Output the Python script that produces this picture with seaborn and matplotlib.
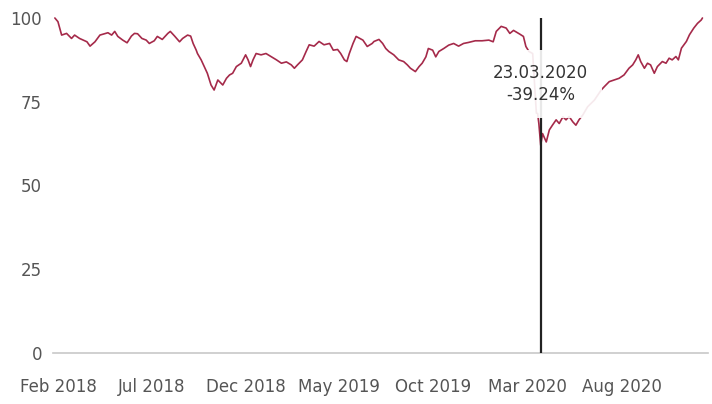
import pandas as pd
import matplotlib
matplotlib.use('Agg')
import matplotlib.pyplot as plt
import matplotlib.dates as mdates
import seaborn as sns

# index level (start = 100)
dates = [
    '2018-01-26', '2018-01-31', '2018-02-06', '2018-02-14', '2018-02-22', '2018-02-27',
    '2018-03-07', '2018-03-13', '2018-03-19', '2018-03-24', '2018-04-01', '2018-04-09',
    '2018-04-22', '2018-04-28', '2018-05-03', '2018-05-08', '2018-05-16', '2018-05-23',
    '2018-05-30', '2018-06-04', '2018-06-09', '2018-06-16', '2018-06-23', '2018-06-28',
    '2018-07-06', '2018-07-11', '2018-07-19', '2018-07-28', '2018-08-01', '2018-08-08',
    '2018-08-16', '2018-08-21', '2018-08-29', '2018-09-03', '2018-09-07', '2018-09-12',
    '2018-09-14', '2018-09-20', '2018-09-25', '2018-09-30', '2018-10-06', '2018-10-11',
    '2018-10-17', '2018-10-25', '2018-10-31', '2018-11-05', '2018-11-10', '2018-11-16',
    '2018-11-24', '2018-12-01', '2018-12-05', '2018-12-09', '2018-12-13', '2018-12-18',
    '2018-12-26', '2019-01-03', '2019-01-12', '2019-01-20', '2019-01-28', '2019-02-05',
    '2019-02-13', '2019-02-18', '2019-02-23', '2019-03-03', '2019-03-09', '2019-03-14',
    '2019-03-22', '2019-03-30', '2019-04-07', '2019-04-16', '2019-04-22', '2019-04-29',
    '2019-05-04', '2019-05-10', '2019-05-14', '2019-05-18', '2019-05-24', '2019-05-29',
    '2019-06-04', '2019-06-09', '2019-06-16', '2019-06-24', '2019-06-27', '2019-07-05',
    '2019-07-11', '2019-07-16', '2019-07-21', '2019-07-29', '2019-08-06', '2019-08-14',
    '2019-08-20', '2019-08-25', '2019-09-02', '2019-09-08', '2019-09-13', '2019-09-19',
    '2019-09-23', '2019-09-30', '2019-10-05', '2019-10-10', '2019-10-18', '2019-10-26',
    '2019-11-03', '2019-11-11', '2019-11-19', '2019-11-27', '2019-12-08', '2019-12-19',
    '2019-12-30', '2020-01-06', '2020-01-11', '2020-01-19', '2020-01-27', '2020-02-02',
    '2020-02-08', '2020-02-18', '2020-02-24', '2020-02-28', '2020-03-04', '2020-03-10',
    '2020-03-16', '2020-03-18', '2020-03-20', '2020-03-23', '2020-03-26', '2020-04-01',
    '2020-04-06', '2020-04-11', '2020-04-17', '2020-04-22', '2020-04-28', '2020-05-03',
    '2020-05-08', '2020-05-14', '2020-05-19', '2020-05-24', '2020-05-30', '2020-06-07',
    '2020-06-18', '2020-06-29', '2020-07-04', '2020-07-12', '2020-07-20', '2020-07-28',
    '2020-08-05', '2020-08-13', '2020-08-19', '2020-08-24', '2020-08-28', '2020-09-01',
    '2020-09-07', '2020-09-12', '2020-09-17', '2020-09-23', '2020-09-28', '2020-10-06',
    '2020-10-12', '2020-10-17', '2020-10-22', '2020-10-28', '2020-11-01', '2020-11-06',
    '2020-11-14', '2020-11-19', '2020-11-26', '2020-12-02', '2020-12-08', '2020-12-10',
]
values = [
    100.0, 98.9, 94.9, 95.4, 93.9, 94.9,
    93.9, 93.4, 92.9, 91.6, 92.9, 94.9,
    95.6, 94.9, 96.0, 94.5, 93.4, 92.6,
    94.6, 95.4, 95.3, 93.9, 93.4, 92.4,
    93.2, 94.5, 93.6, 95.4, 96.0, 94.6,
    92.9, 93.9, 94.9, 94.6, 92.4, 90.4,
    89.4, 87.5, 85.5, 83.5, 80.0, 78.5,
    81.5, 80.0, 82.0, 83.0, 83.5, 85.5,
    86.5, 89.0, 87.5, 85.5, 87.5, 89.4,
    89.0, 89.4, 88.4, 87.5, 86.5, 86.9,
    86.0, 85.0, 86.0, 87.5, 90.0, 92.0,
    91.6, 93.0, 92.0, 92.4, 90.4, 90.6,
    89.4, 87.5, 87.0, 89.4, 92.4, 94.5,
    93.9, 93.4, 91.5, 92.4, 93.0, 93.6,
    92.4, 90.9, 90.0, 89.0, 87.5, 87.0,
    86.0, 85.0, 84.0, 85.5, 86.5, 88.4,
    90.9, 90.4, 88.4, 90.0, 90.9, 91.9,
    92.4, 91.6, 92.4, 92.7, 93.2, 93.2,
    93.4, 92.9, 96.0, 97.5, 97.0, 95.4,
    96.3, 95.2, 94.5, 91.5, 90.0, 89.4,
    71.6, 71.5, 68.5, 62.0, 65.5, 63.0,
    66.6, 68.0, 69.6, 68.5, 70.5, 69.6,
    70.6, 69.0, 68.0, 69.6, 71.0, 73.5,
    75.5, 78.5, 79.5, 81.0, 81.5, 82.0,
    83.0, 85.0, 86.0, 87.5, 89.0, 87.0,
    85.0, 86.5, 86.0, 83.5, 85.5, 87.0,
    86.5, 88.0, 87.5, 88.5, 87.5, 91.0,
    93.0, 95.0, 97.0, 98.4, 99.4, 100.0,
]

tick_dates = ['2018-02-01', '2018-07-01', '2018-12-01', '2019-05-01',
              '2019-10-01', '2020-03-01', '2020-08-01']
y_ticks = [0, 25, 50, 75, 100]

event_date = '2020-03-23'
event_label = '23.03.2020\n-39.24%'

sns.set_style('white')
plt.rcParams['font.family'] = ['DejaVu Sans']

fig = plt.figure(figsize=(7.12, 4.04), dpi=100)
ax = fig.add_axes([53 / 712, 1 - 353 / 404, 655 / 712, 335 / 404])

df = pd.DataFrame({'date': pd.to_datetime(dates), 'value': values})
sns.lineplot(data=df, x='date', y='value', ax=ax, color='#a52a4a',
             linewidth=1.2, clip_on=False)

ax.axvline(pd.Timestamp(event_date), color='#222222', linewidth=1.6, zorder=3)
ax.text(pd.Timestamp(event_date), 80.3, event_label, ha='center', va='center',
        fontsize=12, color='#333333', linespacing=1.35, zorder=5,
        bbox=dict(boxstyle='square,pad=0.8', fc='white', ec='none', alpha=0.9))

ax.set_xlim(pd.Timestamp('2018-01-23'), pd.Timestamp('2020-12-19'))
ax.set_ylim(0, 100)
ax.set_xticks(pd.to_datetime(tick_dates))
ax.xaxis.set_major_formatter(mdates.DateFormatter('%b %Y'))
ax.set_yticks(y_ticks)
ax.set_xlabel('')
ax.set_ylabel('')

for s in ['top', 'right', 'left']:
    ax.spines[s].set_visible(False)
ax.spines['bottom'].set_color('#c8c8c8')
ax.spines['bottom'].set_linewidth(1.2)

ax.tick_params(axis='x', length=0, labelsize=12, colors='#555555', pad=18)
ax.tick_params(axis='y', length=0, labelsize=12, colors='#555555', pad=8)

fig.savefig('out.png', dpi=100)
